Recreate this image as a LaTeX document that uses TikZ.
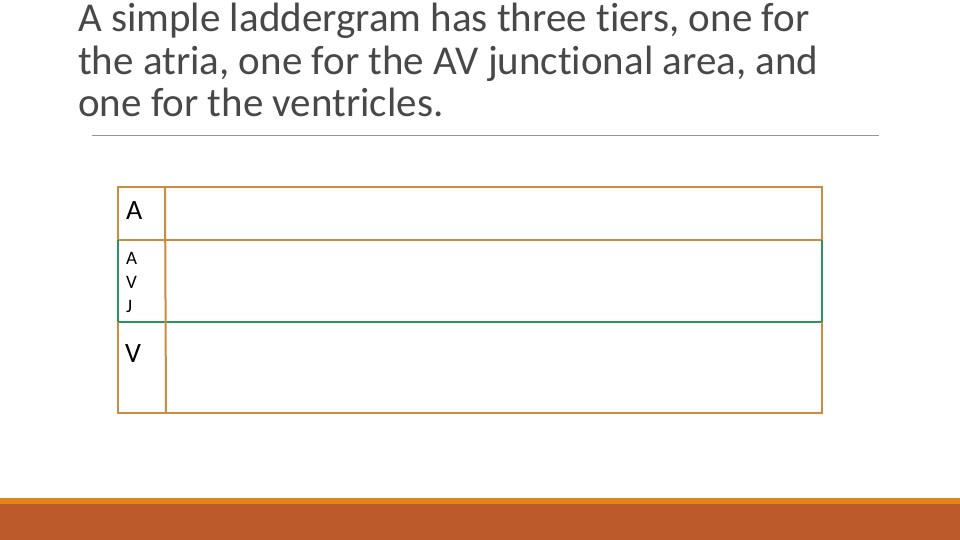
\documentclass[tikz,border=0pt]{standalone}
\usepackage{fontspec}
\setmainfont{Carlito}[Ligatures=NoCommon]
\definecolor{titlegray}{RGB}{72,72,72}
\definecolor{rulegray}{RGB}{150,150,150}
\definecolor{ladorange}{RGB}{204,140,62}
\definecolor{ladgreen}{RGB}{38,150,92}
\definecolor{barorange}{RGB}{226,132,26}
\definecolor{barrust}{RGB}{188,90,44}
\tikzset{
  titleline/.style={anchor=base west, inner sep=0pt, text=titlegray, font=\fontsize{41}{46}\selectfont},
  tierlabel/.style={anchor=base west, inner sep=0pt, text=black, font=\fontsize{28}{30}\selectfont},
  smalllabel/.style={anchor=base west, inner sep=0pt, text=black, font=\fontsize{19}{21}\selectfont},
  orangeline/.style={draw=ladorange, line width=2pt},
  greenline/.style={draw=ladgreen, line width=2pt}
}
\begin{document}
\begin{tikzpicture}[x=1pt,y=-1pt]
\useasboundingbox (0,0) rectangle (960,540);
\fill[white] (0,0) rectangle (960,540);
% title
\node[titleline] (t1) at (78,32) {A simple laddergram has three tiers, one for};
\node[titleline] (t2) at (78,75) {the atria, one for the AV junctional area, and};
\node[titleline] (t3) at (78,117) {one for the ventricles.};
\draw[rulegray, line width=1pt] (92,136) -- (879,136);
% ladder
\draw[orangeline] (118,240) -- (118,187) -- (822,187) -- (822,240);
\draw[orangeline] (118,240) -- (822,240);
\draw[greenline] (118,240) -- (118,322) -- (822,322) -- (822,240);
\draw[orangeline] (118,322) -- (118,413) -- (822,413) -- (822,322);
\draw[orangeline] (165,187) -- (166,413);
% labels
\node[tierlabel] (la) at (126,219) {A};
\node[smalllabel] (lav1) at (126,264) {A};
\node[smalllabel] (lav2) at (126,288) {V};
\node[smalllabel] (lav3) at (126,312) {J};
\node[tierlabel] (lv) at (125,362) {V};
% bottom bars
\fill[barorange] (0,498) rectangle (960,504);
\fill[barrust] (0,504) rectangle (960,540);
\end{tikzpicture}
\end{document}
